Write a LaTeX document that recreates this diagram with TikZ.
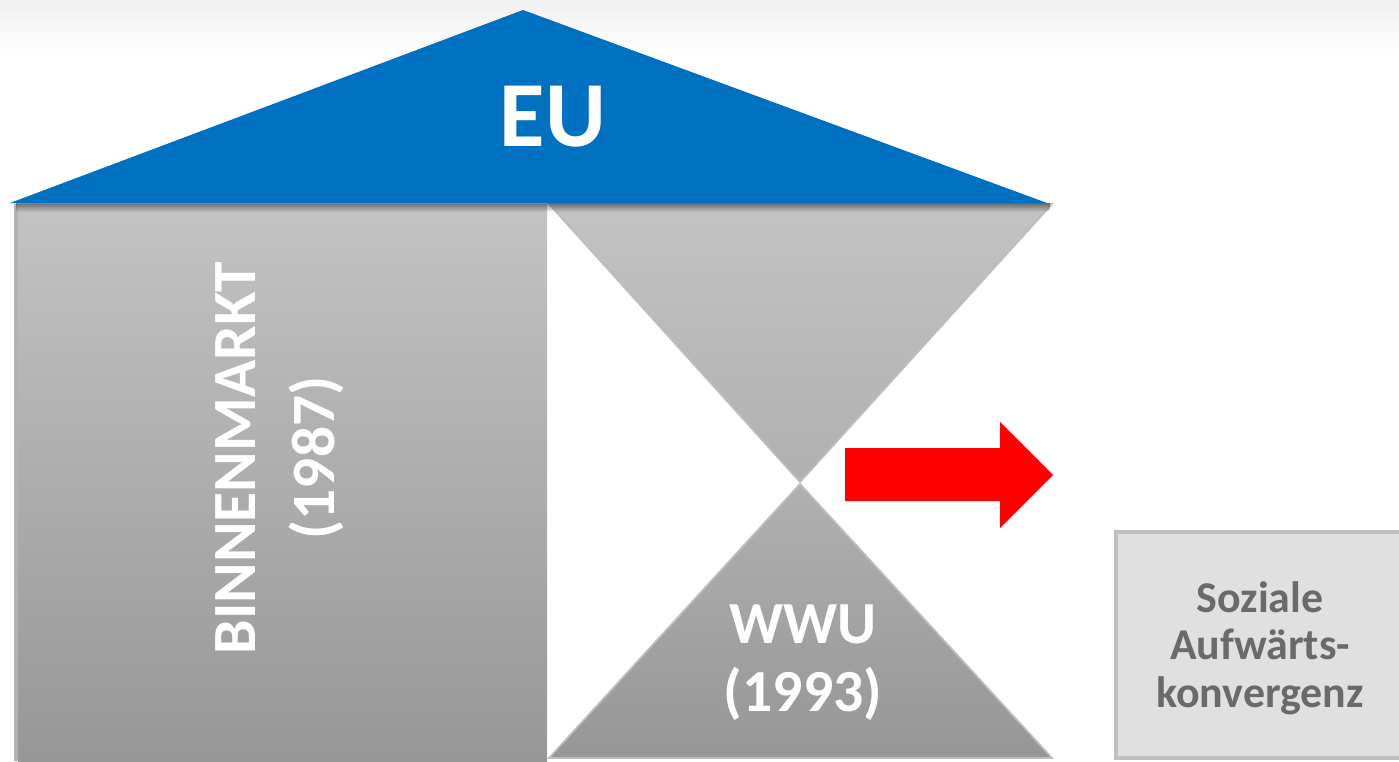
\documentclass[tikz,border=0pt]{standalone}
\usepackage{fontspec}
\setmainfont{Carlito}
\usetikzlibrary{fadings}
\definecolor{eublue}{HTML}{0070C0}
\definecolor{gtop}{HTML}{C3C3C3}
\definecolor{gbot}{HTML}{979797}
\definecolor{edgegray}{HTML}{BDBDBD}
\definecolor{boxfill}{HTML}{E0E0E0}
\definecolor{boxedge}{HTML}{BFBFBF}
\definecolor{softtext}{HTML}{6A6A6A}
\tikzset{
  whitelabel/.style={text=white, font=\bfseries, align=center, inner sep=0pt},
  grayface/.style={draw=edgegray, line width=1pt},
}
\begin{document}
\begin{tikzpicture}[x=0.02cm, y=-0.02cm]
\useasboundingbox (0,0) rectangle (1399,761);
% background
\fill[white] (0,0) rectangle (1399,761);
\shade[top color=black!6, bottom color=white] (0,0) rectangle (1399,55);
% BINNENMARKT pillar
\fill[black!30] (14,204) rectangle (18,761);
\shade[top color=gtop, bottom color=gbot] (18,204) rectangle (547,761);
% upper inverted triangle
\shade[grayface, top color=gtop, bottom color=black!31] (549,204) -- (1052,204) -- (800,482) -- cycle;
% lower triangle
\shade[grayface, top color=black!31, bottom color=black!41] (800,484) -- (1052,758) -- (549,758) -- cycle;
% shadow under roof
\fill[black, fill opacity=0.45, path fading=south] (16,203) rectangle (1050,212);
% roof
\fill[eublue] (523,10) -- (1047,203) -- (10,203) -- cycle;
% red arrow
\fill[red] (845,448) -- (1000,448) -- (1000,422) -- (1053,475) -- (1000,528) -- (1000,501) -- (845,501) -- cycle;
% Soziale box
\draw[boxedge, line width=2pt, fill=boxfill] (1116,532) rectangle (1410,758);
% texts
\node[whitelabel, font=\bfseries\fontsize{53}{60}\selectfont] (eu) at (553,117) {EU};
\node[whitelabel, rotate=90, font=\bfseries\fontsize{35}{45}\selectfont] (bm) at (280,458) {BINNENMARKT\\(1987)};
\node[whitelabel, font=\bfseries\fontsize{34}{38.6}\selectfont] (wwu) at (803,663) {WWU\\(1993)};
\node[text=softtext, font=\bfseries\fontsize{25}{27}\selectfont, align=center, inner sep=0pt] (soz) at (1260,648) {Soziale\\Aufwärts-\\konvergenz};
\end{tikzpicture}
\end{document}
